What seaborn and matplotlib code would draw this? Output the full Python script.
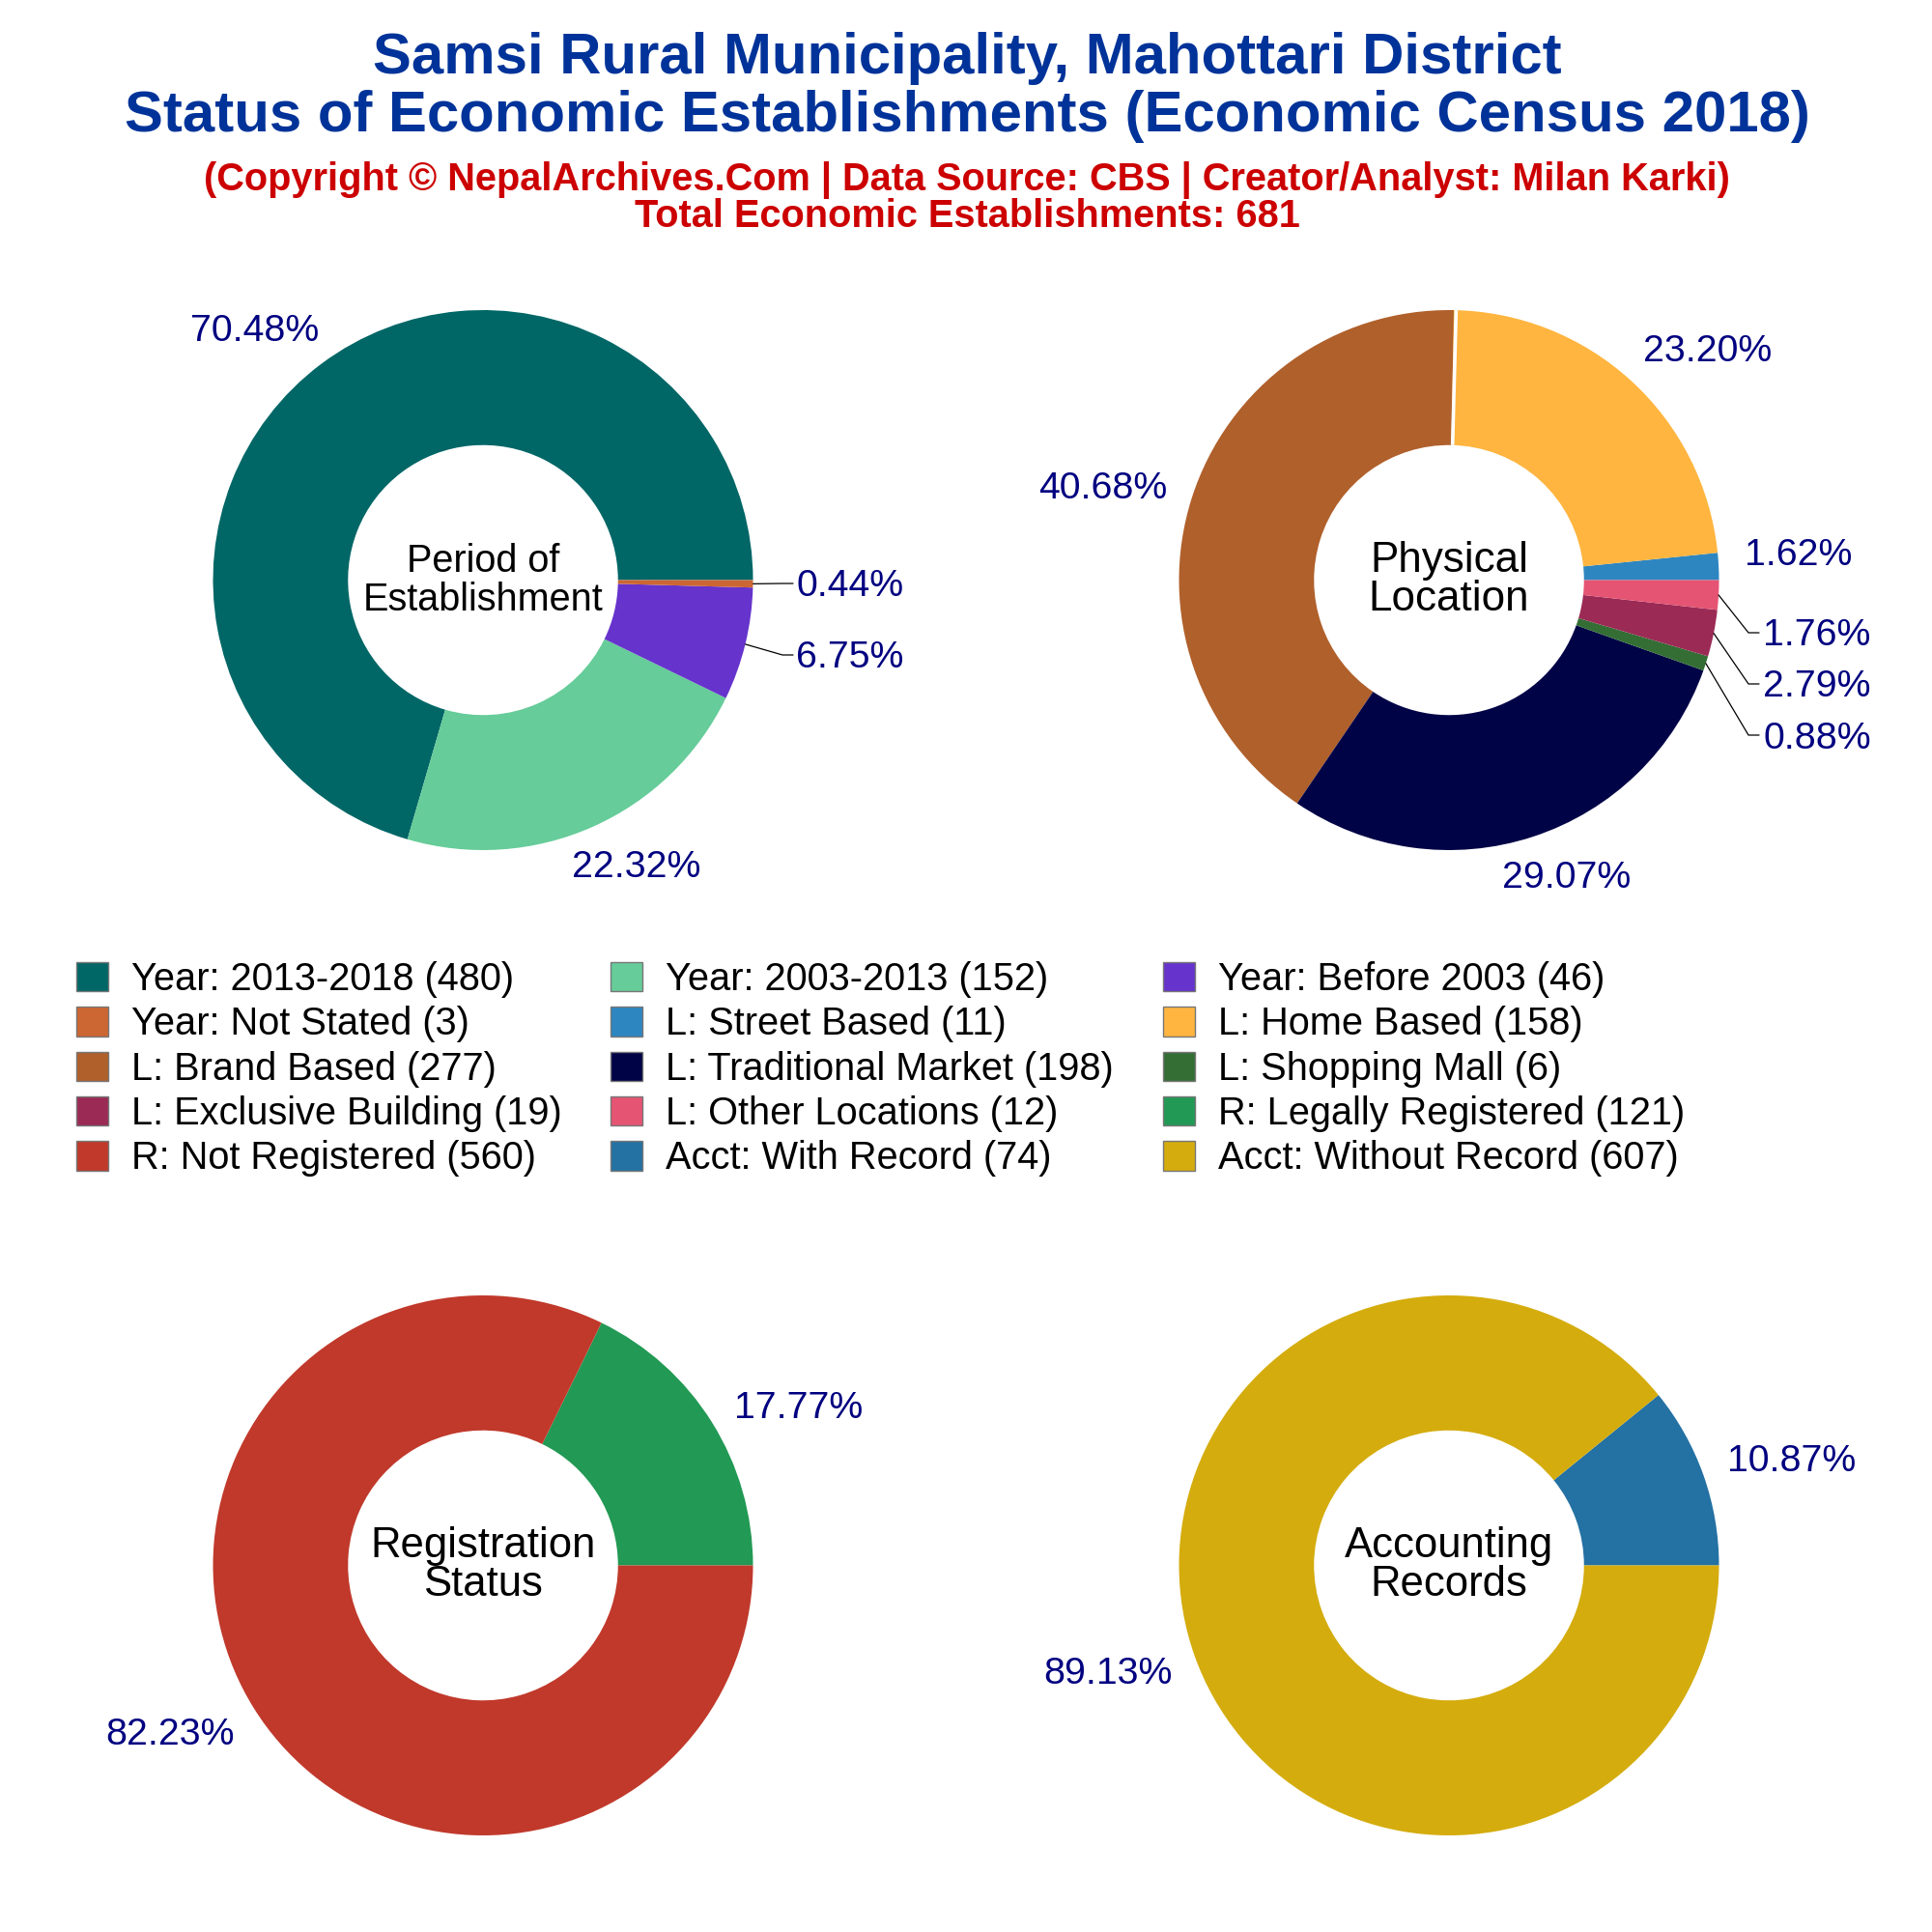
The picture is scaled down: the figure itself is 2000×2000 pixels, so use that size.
"""Samsi Rural Municipality economic census donut charts"""
import matplotlib
matplotlib.use('Agg')
import matplotlib.pyplot as plt
import numpy as np
import seaborn as sns
from matplotlib.lines import Line2D
from matplotlib.patches import Patch

SIZE = 2000

period_labels = ['Year: 2013-2018', 'Year: 2003-2013', 'Year: Before 2003', 'Year: Not Stated']
period_values = [480, 152, 46, 3]
period_colors = ['#006666', '#66CC99', '#6633CC', '#CC6633']

location_labels = ['L: Street Based', 'L: Home Based', 'L: Brand Based', 'L: Traditional Market',
                   'L: Shopping Mall', 'L: Exclusive Building', 'L: Other Locations']
location_values = [11, 158, 277, 198, 6, 19, 12]
location_colors = ['#2E86C1', '#FFB53F', '#B0602B', '#000346', '#346E35', '#9B2A55', '#E55473']

reg_labels = ['R: Legally Registered', 'R: Not Registered']
reg_values = [121, 560]
reg_colors = ['#229954', '#C0392B']

acct_labels = ['Acct: With Record', 'Acct: Without Record']
acct_values = [74, 607]
acct_colors = ['#2471A3', '#D4AC0D']

TOTAL = 681
RADIUS = 279.5

sns.set_theme(style='white')
plt.rcParams['font.family'] = ['Liberation Sans', 'DejaVu Sans']

fig = plt.figure(figsize=(10, 10), dpi=200, facecolor='white')


def px(x, y):
    return x / SIZE, 1 - y / SIZE


def put_text(x, y, s, **kw):
    # font sizes below are given in pixels of the final image
    size = kw.pop('px_size') * 72 / fig.dpi
    fig.text(*px(x, y), s, ha='center', va='center', fontsize=size, **kw)


def donut(cx, cy, values, colors, centre, centre_size, label_pos, leaders=None, seam=None):
    ax = fig.add_axes([(cx - RADIUS) / SIZE, 1 - (cy + RADIUS) / SIZE, 2 * RADIUS / SIZE, 2 * RADIUS / SIZE])
    wedges, _ = ax.pie(values, colors=sns.color_palette(colors), startangle=0, counterclock=True,
                       wedgeprops={'width': 0.5, 'linewidth': 0}, radius=1)
    ax.set_xlim(-1, 1)
    ax.set_ylim(-1, 1)
    # thin white gap the reference shows next to one slice boundary
    if seam is not None:
        w = wedges[seam]
        w.set_theta1(w.theta1 - 0.35)
        a = np.radians(w.theta1 - 0.5)
        ax.plot([0.5 * np.cos(a), np.cos(a)], [0.5 * np.sin(a), np.sin(a)], color='white',
                lw=1.3, solid_capstyle='butt')
    for i, (x, y) in enumerate(label_pos):
        put_text(x, y, f'{100 * values[i] / TOTAL:.2f}%', px_size=39.2, color='#000080')
    put_text(cx, cy - 20, centre[0], px_size=centre_size, color='black')
    put_text(cx, cy + 20, centre[1], px_size=centre_size, color='black')
    # elbow leader lines for the thin slices
    if leaders:
        angles = np.cumsum([0] + values) / sum(values) * 2 * np.pi
        for i, (ex, ey, tx) in leaders.items():
            mid = (angles[i] + angles[i + 1]) / 2
            sx, sy = cx + RADIUS * np.cos(mid), cy - RADIUS * np.sin(mid)
            xs, ys = zip(*[px(sx, sy), px(ex, ey), px(tx, ey)])
            fig.add_artist(Line2D(xs, ys, color='black', lw=0.45, transform=fig.transFigure))


donut(500, 600.5, period_values, period_colors, ('Period of', 'Establishment'), 39.6,
      [(264, 343), (659, 898), (880, 681), (880, 607)],
      {2: (810, 678, 821), 3: (810, 604, 821)})
donut(1500, 600.5, location_values, location_colors, ('Physical', 'Location'), 44,
      [(1862, 575), (1768, 364), (1142, 506), (1622, 909), (1881, 765), (1881, 711), (1881, 658)],
      {4: (1810, 761, 1821), 5: (1810, 708, 1821), 6: (1810, 655, 1821)}, seam=2)
donut(500, 1620.5, reg_values, reg_colors, ('Registration', 'Status'), 43.6,
      [(827, 1458), (176, 1796)])
donut(1500, 1620.5, acct_values, acct_colors, ('Accounting', 'Records'), 43.6,
      [(1855, 1513), (1147, 1733)])

put_text(1001, 60, 'Samsi Rural Municipality, Mahottari District', px_size=59.9, color='#003399', fontweight='bold')
put_text(1001, 120, 'Status of Economic Establishments (Economic Census 2018)', px_size=59.9, color='#003399', fontweight='bold')
put_text(1001, 186, '(Copyright © NepalArchives.Com | Data Source: CBS | Creator/Analyst: Milan Karki)',
         px_size=39.75, color='#CC0000', fontweight='bold')
put_text(1001, 224, f'Total Economic Establishments: {TOTAL}', px_size=39.75, color='#CC0000', fontweight='bold')

all_labels = period_labels + location_labels + reg_labels + acct_labels
all_values = period_values + location_values + reg_values + acct_values
all_colors = period_colors + location_colors + reg_colors + acct_colors
handles = [Patch(facecolor=c, edgecolor='#777777', linewidth=0.5, label=f'{l} ({v})')
           for l, v, c in zip(all_labels, all_values, all_colors)]
# the reference fills the legend row by row, so reorder for column-wise ncol
order = [i for col in range(3) for i in range(col, len(handles), 3)]
fig.legend(handles=[handles[i] for i in order], ncol=3, frameon=False, fontsize=14.3, labelcolor='black',
           loc='upper left', bbox_to_anchor=px(79, 995), borderaxespad=0, borderpad=0,
           handlelength=0.83, handleheight=0.8, handletextpad=0.6, columnspacing=1.28, labelspacing=0.21)

fig.savefig('out.png', dpi=200, facecolor='white')
